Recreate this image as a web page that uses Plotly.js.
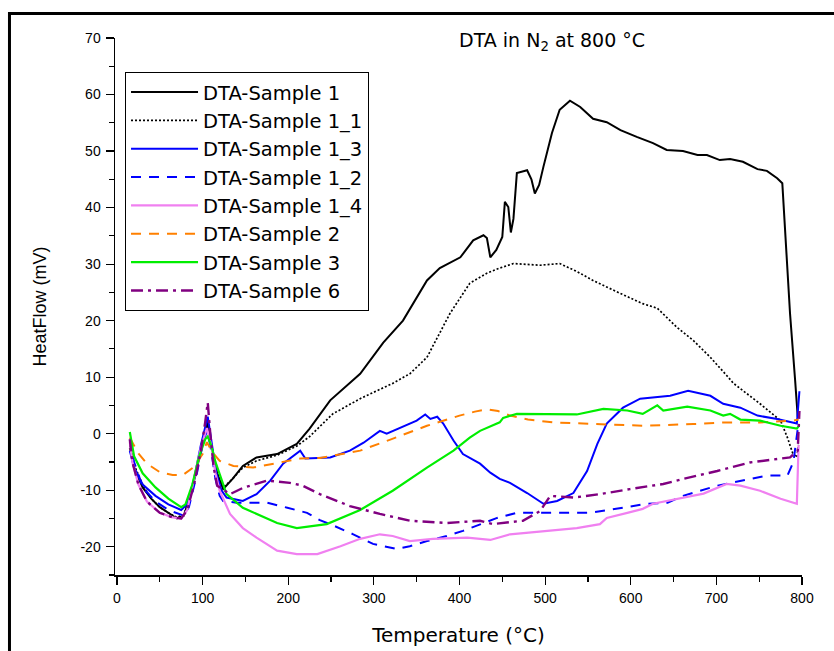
<!DOCTYPE html>
<html>
<head>
<meta charset="utf-8">
<script src="https://cdn.plot.ly/plotly-3.0.1.min.js"></script>
<style>html,body{margin:0;padding:0;background:#fff;}#chart{width:834px;height:651px;}</style>
</head>
<body>
<div id="chart"></div>
<script>
// Series names
const seriesNames = ["DTA-Sample 1","DTA-Sample 1_1","DTA-Sample 1_3","DTA-Sample 1_2","DTA-Sample 1_4","DTA-Sample 2","DTA-Sample 3","DTA-Sample 6"];

// DTA-Sample 1
const s1_x = [15,20,30,40,50,60,70,78,86,95,102,106,110,117,124,135,147,163,187,210,225,249,272,284,311,334,362,377,401,416,428,432,436,443,450,453,457,460,463,467,479,484,488,493,498,508,517,529,541,556,572,588,607,626,642,661,678,689,704,716,731,748,759,771,777,780,786,792,795];
const s1_y = [-2.5,-6,-9.5,-11.5,-13,-14,-15,-14.5,-11,-5,0,2,-2,-7,-9.8,-8,-5.7,-4.2,-3.6,-1.8,0.9,5.9,9,10.6,16.1,20,27.1,29.3,31.2,34.2,35.1,34.6,31.2,32.5,34.8,41,40.1,35.6,38,46.1,46.6,45,42.5,44,47.2,53.2,57.3,58.9,57.8,55.7,55.1,53.7,52.5,51.4,50.2,50,49.3,49.3,48.4,48.6,48.1,46.8,46.5,45.2,44.3,37.2,21.3,9.4,3];

// DTA-Sample 1_1
const s11_x = [15,20,30,40,50,60,70,78,86,95,102,106,110,117,124,135,147,163,187,210,225,252,284,322,342,362,389,412,432,447,463,494,517,537,556,588,614,631,654,673,693,712,720,751,775,783,789,794,796];
const s11_y = [-2,-5.5,-9,-11.5,-13,-14,-14.8,-14.3,-11,-5,0,1.5,-2,-7,-9.5,-8,-6,-4.8,-3.8,-2.2,-0.5,3.5,6.2,8.9,10.6,13.5,21.3,26.6,28.4,29.3,30.1,29.8,30.1,28.7,27.1,24.8,23,22.2,18.8,16.5,13.5,10.3,8.9,5.3,2.3,-0.7,-3.4,-4.2,-2];

// DTA-Sample 1_3
const s13_x = [15,20,30,45,60,75,82,90,98,104,106,110,116,122,128,147,163,179,194,214,220,249,272,288,307,315,331,350,360,366,374,381,393,404,424,436,447,459,479,498,514,533,549,561,572,591,611,646,667,693,708,728,748,771,794,797];
const s13_y = [-3,-6,-9,-11,-12.5,-13.5,-12.5,-8,-2,2,3,-1,-7,-10,-11.3,-11.9,-10.7,-8.3,-5.3,-3,-4.4,-4.2,-3,-1.6,0.5,0,1.1,2.3,3.4,2.6,3.0,1.8,-1.2,-3.6,-5.3,-6.9,-8,-8.7,-10.5,-12.4,-11.9,-10.5,-6.6,-1.8,1.8,4.6,6.2,6.7,7.6,6.7,5.3,4.6,3.2,2.6,1.8,7.5];

// DTA-Sample 1_2
const s12_x = [15,20,30,45,60,78,84,92,100,105,109,115,120,124,140,175,199,222,237,252,276,299,327,342,362,385,404,424,444,467,514,553,591,619,643,661,701,739,759,783,790,796];
const s12_y = [-1,-5,-9.5,-12,-13.5,-14.5,-13,-8,-2,0.5,-2,-8,-11,-11.9,-12.2,-12.2,-13.1,-14,-15.3,-16.2,-17.8,-19.5,-20.4,-19.9,-19,-18.1,-17.2,-16,-14.9,-14,-14,-14,-13.1,-12.4,-12.2,-11,-9.2,-8,-7.4,-7.4,-5,2];

// DTA-Sample 1_4
const s14_x = [15,18,25,35,50,65,75,82,90,98,105,110,115,120,132,147,163,187,210,234,261,284,307,322,342,369,409,436,459,498,537,564,572,596,614,626,654,685,712,728,751,775,794,796];
const s14_y = [-1.5,-5,-9,-12,-14,-14.8,-15,-13.5,-8,-2.5,1,-2,-7,-10.1,-14.2,-16.7,-18.4,-20.7,-21.3,-21.3,-19.9,-18.6,-17.8,-18.1,-19,-18.6,-18.4,-18.8,-17.8,-17.2,-16.7,-16,-14.9,-14,-13.3,-12.4,-11.5,-10.6,-8.9,-9.2,-10.1,-11.5,-12.4,-2];

// DTA-Sample 2
const s2_x = [15,25,35,50,65,77,89,100,105,112,120,136,159,182,214,237,276,284,320,362,400,418,432,445,459,480,509,556,614,673,712,751,790,796];
const s2_y = [-0.7,-3.5,-5.3,-6.8,-7.3,-7.3,-6,-3.6,-1.5,-3.4,-4.8,-5.7,-6,-5.3,-4.4,-4.3,-3.2,-3,-1,1.4,3.2,3.9,4.3,4,3.2,2.5,2,1.7,1.4,1.7,2,2,2.3,2.5];

// DTA-Sample 3
const s3_x = [15,20,30,45,60,75,80,88,96,103,106,110,115,120,128,147,167,187,210,245,284,322,362,393,412,424,447,451,467,517,537,568,596,614,631,638,666,693,708,716,728,751,775,794,797];
const s3_y = [0.3,-4,-7,-9.5,-11.5,-13,-12.5,-9,-4,-1,-0.5,-2,-5,-7.1,-10.7,-13.1,-14.5,-15.8,-16.7,-16,-13.5,-10.1,-6,-3,-0.7,0.5,2,2.8,3.5,3.5,3.4,4.4,4.1,3.5,5,4.1,4.8,4.1,3.2,3.5,2.5,2.3,1.4,0.9,1.5];

// DTA-Sample 6
const s6_x = [15,18,25,35,50,65,75,82,90,98,103,106,109,113,117,132,147,175,202,217,237,272,307,342,385,424,439,474,494,506,533,564,599,638,661,701,739,771,786,795,797];
const s6_y = [-1,-5,-9,-12,-14,-14.8,-15,-13.5,-9,-3,2,5.5,0,-6,-9.2,-10.7,-9.6,-8.3,-8.7,-9.2,-10.7,-12.8,-14.2,-15.4,-15.8,-15.4,-16,-15.4,-13.7,-11,-11.3,-10.7,-9.8,-8.9,-8,-6.6,-5.1,-4.4,-4.2,-3,4];

const xTicks = [0,100,200,300,400,500,600,700,800];
const yTicks = [-20,-10,0,10,20,30,40,50,60,70];

const xs = [s1_x,s11_x,s13_x,s12_x,s14_x,s2_x,s3_x,s6_x];
const ys = [s1_y,s11_y,s13_y,s12_y,s14_y,s2_y,s3_y,s6_y];
const styles = [
  {color:'#000000', width:2, dash:'solid'},
  {color:'#000000', width:1.7, dash:'2px,2px'},
  {color:'#0000ff', width:2, dash:'solid'},
  {color:'#0000ff', width:2, dash:'10px,8px'},
  {color:'#f080f0', width:2.2, dash:'solid'},
  {color:'#ff8000', width:2, dash:'10px,8px'},
  {color:'#00ee00', width:2.2, dash:'solid'},
  {color:'#800080', width:2.4, dash:'12px,5px,3px,5px'}
];

const traces = seriesNames.map((n,i)=>({
  x: xs[i], y: ys[i], name: n, type:'scatter', mode:'lines',
  line: {color: styles[i].color, width: styles[i].width, dash: styles[i].dash}
}));

const fontFam = 'Liberation Sans, Arial, sans-serif';
const wideFam = 'DejaVu Sans, Verdana, sans-serif';
const layout = {
  width: 834, height: 651,
  margin: {l:115, r:32, t:38, b:76},
  paper_bgcolor:'#fff', plot_bgcolor:'#fff',
  showlegend: true,
  legend: {
    x: 0.0146, y: 0.937, xanchor:'left', yanchor:'top',
    bordercolor:'#000', borderwidth:1, bgcolor:'#fff',
    font:{family:wideFam, size:19.5, color:'#000'},
    itemwidth:67
  },
  xaxis: {
    range:[-2.3,800], tickvals:xTicks, ticktext:xTicks.map(String),
    showgrid:false, zeroline:false, showline:true, linecolor:'#000', linewidth:1.5,
    ticks:'outside', ticklen:8, tickwidth:1.2, tickcolor:'#000', ticklabelstandoff:2,
    minor:{dtick:50, tick0:0, ticks:'outside', ticklen:5, tickwidth:1.2, tickcolor:'#000', showgrid:false},
    tickfont:{family:fontFam, size:14, color:'#000'},
    title:{text:'Temperature (°C)', font:{family:wideFam, size:20, color:'#000'}, standoff:22}
  },
  yaxis: {
    range:[-25,70], tickvals:yTicks, ticktext:yTicks.map(String),
    showgrid:false, zeroline:false, showline:true, linecolor:'#000', linewidth:1.5,
    ticks:'outside', ticklen:8, tickwidth:1.2, tickcolor:'#000', ticklabelstandoff:2,
    minor:{dtick:5, tick0:0, ticks:'outside', ticklen:5, tickwidth:1.2, tickcolor:'#000', showgrid:false},
    tickfont:{family:fontFam, size:14, color:'#000'},
    title:{text:'HeatFlow (mV)', font:{family:fontFam, size:18, color:'#000'}, standoff:29}
  },
  annotations: [{
    text:'DTA in N<sub>2</sub> at 800 °C', xref:'paper', yref:'paper',
    x:0.636, y:0.993, xanchor:'center', yanchor:'middle', showarrow:false,
    font:{family:wideFam, size:19, color:'#000'}
  }],
  shapes: [{
    type:'rect', xref:'paper', yref:'paper',
    x0:-0.1536, x1:1.5, y0:-0.5, y1:1.0456,
    line:{color:'#000', width:3}, fillcolor:'rgba(0,0,0,0)', layer:'above'
  }]
};

Plotly.newPlot('chart', traces, layout, {displayModeBar:false, staticPlot:true});
</script>
</body>
</html>
